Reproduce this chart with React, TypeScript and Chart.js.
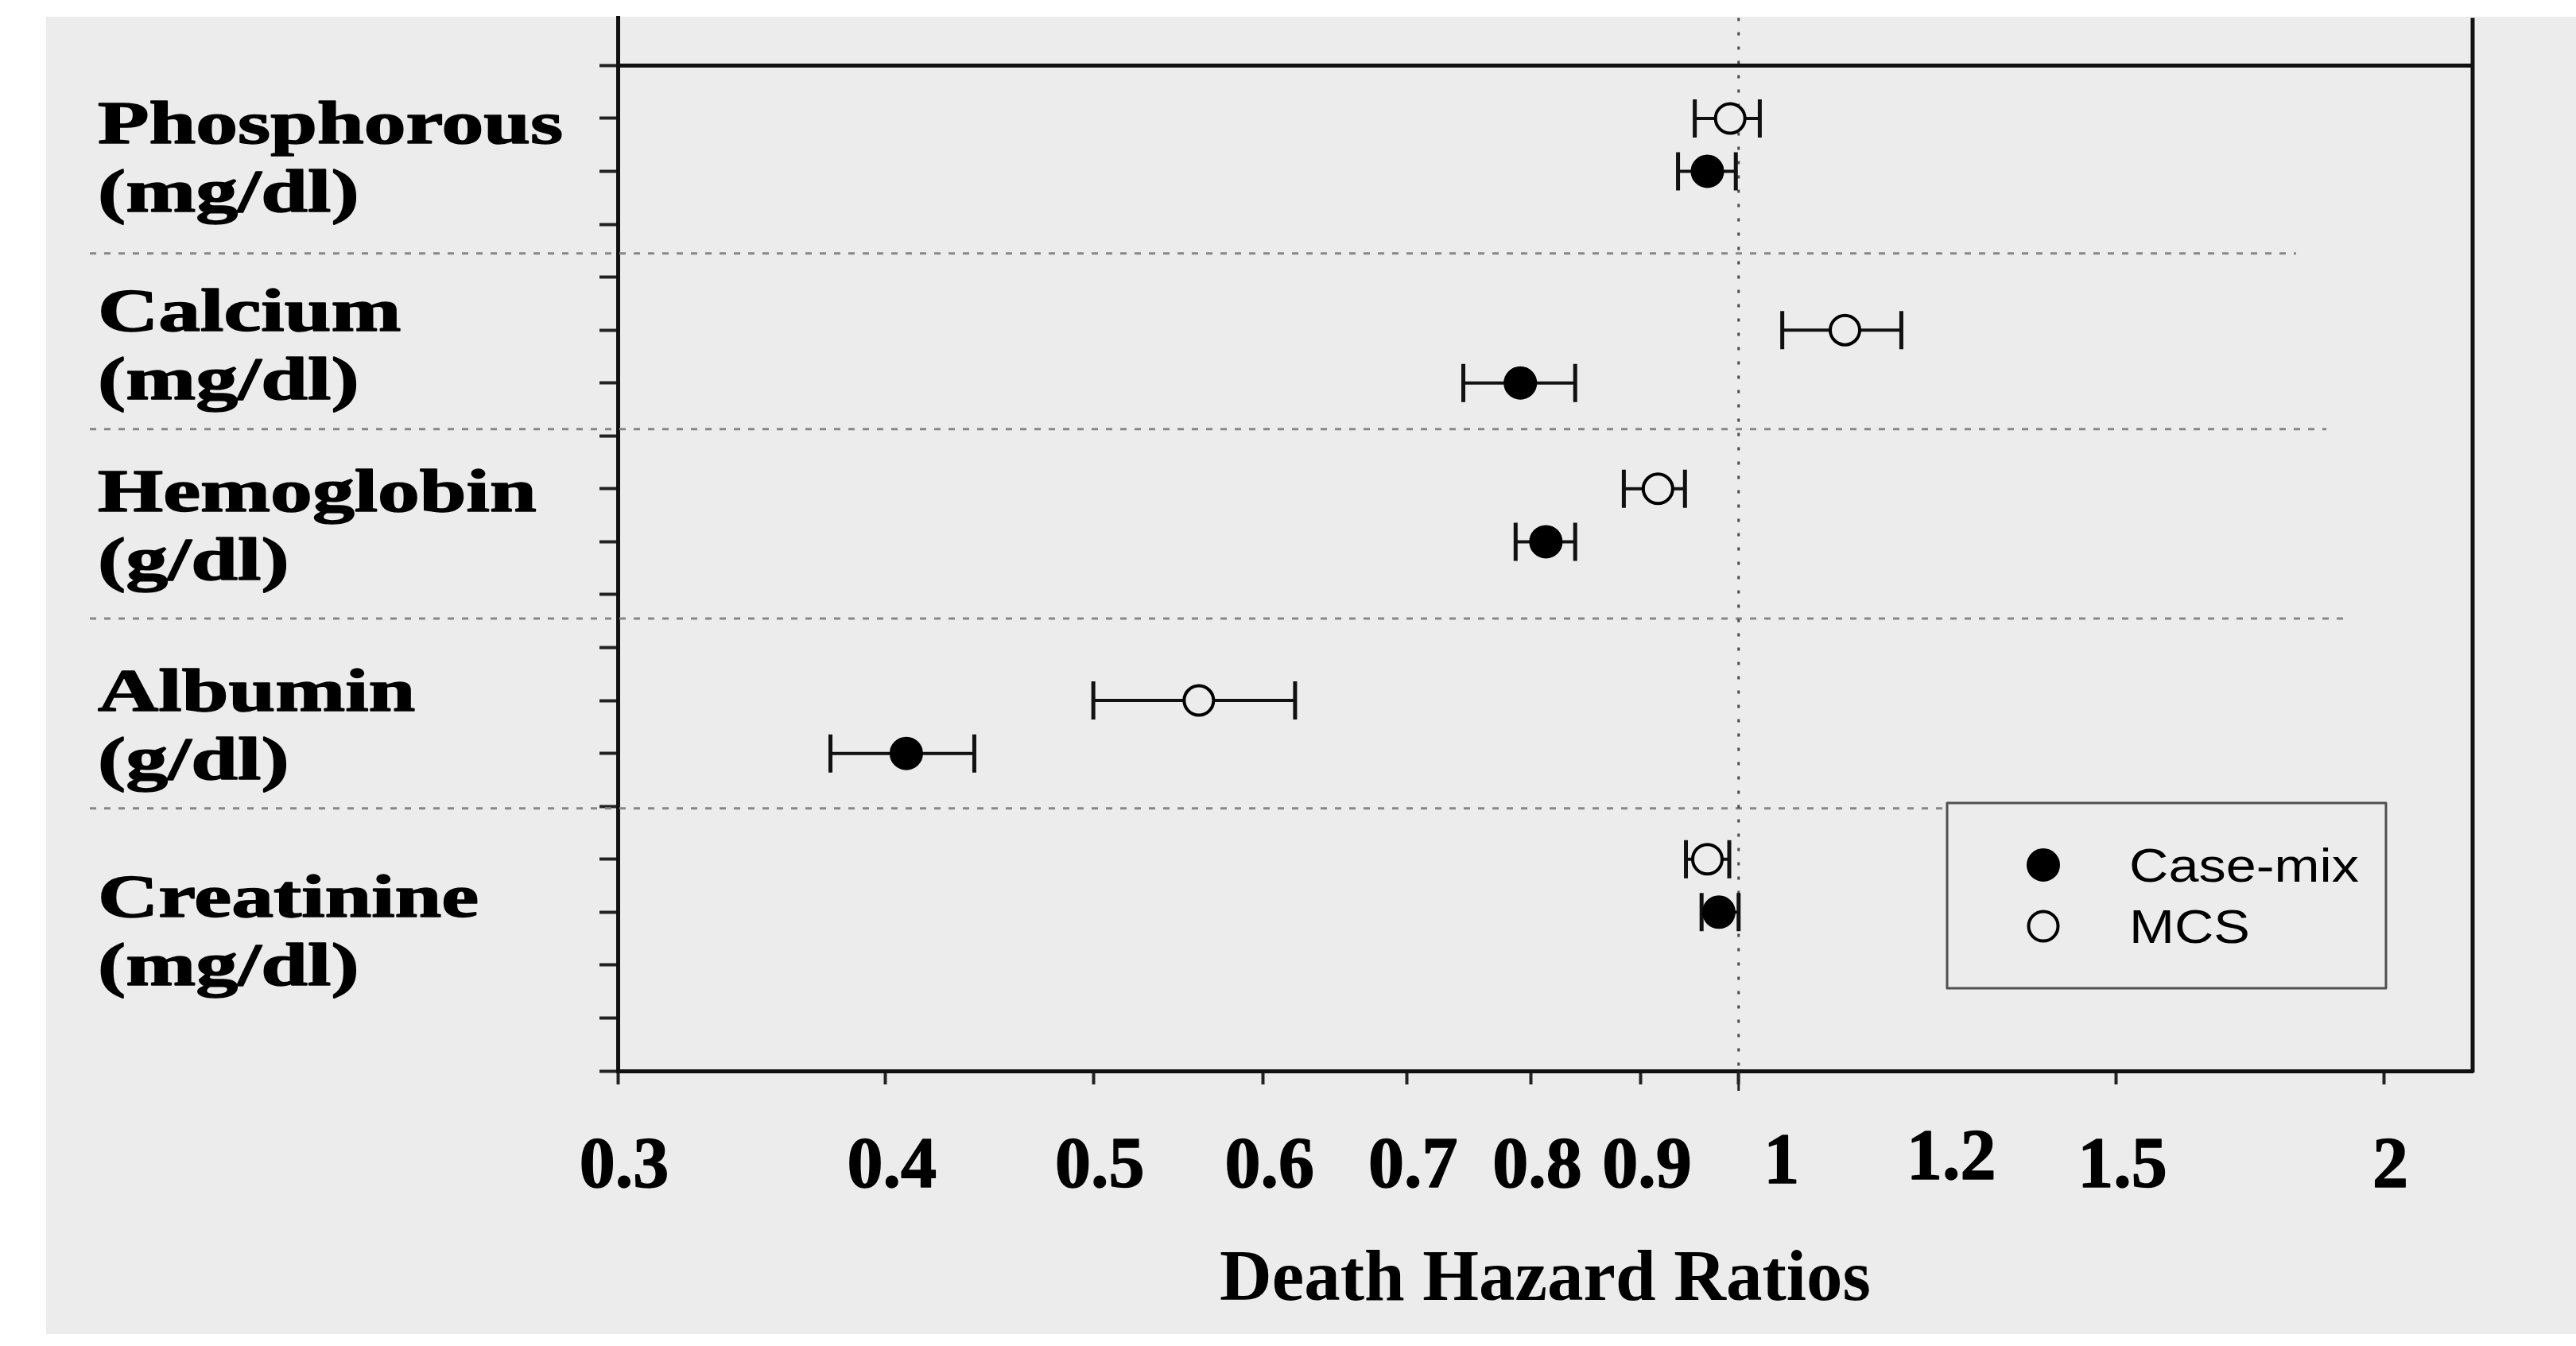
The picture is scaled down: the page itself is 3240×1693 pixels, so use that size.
import React, { useEffect, useRef } from 'react';
import { Chart, registerables } from 'chart.js';

Chart.register(...registerables);

// ---------------- data ----------------
const categories = ['Phosphorous', 'Calcium', 'Hemoglobin', 'Albumin', 'Creatinine'];
const units = ['(mg/dl)', '(mg/dl)', '(g/dl)', '(g/dl)', '(mg/dl)'];

const seriesNames = ['Case-mix', 'MCS'];

const caseMixHR = [0.967, 0.791, 0.813, 0.409, 0.979];
const caseMixLow = [0.937, 0.744, 0.787, 0.377, 0.961];
const caseMixHigh = [0.997, 0.839, 0.839, 0.440, 1.0];

const mcsHR = [0.991, 1.121, 0.917, 0.56, 0.967];
const mcsLow = [0.954, 1.048, 0.884, 0.5, 0.945];
const mcsHigh = [1.023, 1.191, 0.944, 0.621, 0.99];

// rows on the (hidden) vertical scale, 0 = bottom
const caseMixRow = [17, 13, 10, 6, 3];
const mcsRow = [18, 14, 11, 7, 4];
const labelRow = [17.54, 13.99, 10.57, 6.8, 2.91];
const separatorRow = [15.45, 12.13, 8.55, 4.96];
const separatorEndHR = [1.82, 1.88, 1.93, 1.25];
const yTickRows = [0, 1, 2, 3, 4, 5, 6, 7, 8, 9, 10, 11, 12, 13, 14, 15, 16, 17, 18, 19];
const topRuleRow = 19;

const xTickValues = [0.3, 0.4, 0.5, 0.6, 0.7, 0.8, 0.9, 1, 1.5, 2];
const xLabelValues = [0.3, 0.4, 0.5, 0.6, 0.7, 0.8, 0.9, 1, 1.2, 1.5, 2];
const xLabelTexts = ['0.3', '0.4', '0.5', '0.6', '0.7', '0.8', '0.9', '1', '1.2', '1.5', '2'];
const referenceHR = 1;
const xTitle = 'Death Hazard Ratios';

// ---------------- styles ----------------
const W = 3240;
const H = 1693;
const PANEL = '#ececec';
const INK = '#111111';
const labelNudge: Record<string, [number, number]> = { '1': [46, -5], '1.2': [46, -10] };

export default function App() {
  const ref = useRef<HTMLCanvasElement | null>(null);

  useEffect(() => {
    document.body.style.margin = '0';
    document.body.style.overflow = 'hidden';
    const canvas = ref.current;
    if (!canvas) return;

    const bgPlugin = {
      id: 'panelBg',
      beforeDraw(chart: any) {
        const ctx = chart.ctx;
        ctx.save();
        ctx.fillStyle = '#ffffff';
        ctx.fillRect(0, 0, chart.width, chart.height);
        ctx.fillStyle = PANEL;
        ctx.fillRect(58, 21, chart.width - 58, 1678 - 21);
        ctx.restore();
      },
    };

    const decorPlugin = {
      id: 'decor',
      beforeDatasetsDraw(chart: any) {
        const { ctx, chartArea } = chart;
        const xs = chart.scales.x;
        const ys = chart.scales.y;
        ctx.save();

        // dashed separators between groups
        ctx.strokeStyle = '#878787';
        ctx.lineWidth = 3;
        ctx.setLineDash([8, 10]);
        separatorRow.forEach((r, i) => {
          const py = ys.getPixelForValue(r);
          ctx.beginPath();
          ctx.moveTo(113, py);
          ctx.lineTo(xs.getPixelForValue(separatorEndHR[i]), py);
          ctx.stroke();
        });

        // dotted reference line at HR = 1
        const p1 = xs.getPixelForValue(referenceHR);
        ctx.strokeStyle = '#4a4a4a';
        ctx.lineWidth = 3;
        ctx.setLineDash([4, 14]);
        ctx.beginPath();
        ctx.moveTo(p1, chartArea.top);
        ctx.lineTo(p1, chartArea.bottom);
        ctx.stroke();
        ctx.setLineDash([]);
        ctx.strokeStyle = '#222222';
        ctx.beginPath();
        ctx.moveTo(p1, chartArea.bottom);
        ctx.lineTo(p1, chartArea.bottom + 25);
        ctx.stroke();

        // top rule and right frame
        ctx.strokeStyle = INK;
        ctx.lineWidth = 5;
        const pt = ys.getPixelForValue(topRuleRow);
        ctx.beginPath();
        ctx.moveTo(chartArea.left, pt);
        ctx.lineTo(chartArea.right, pt);
        ctx.stroke();
        ctx.beginPath();
        ctx.moveTo(chartArea.right, chartArea.top);
        ctx.lineTo(chartArea.right, chartArea.bottom + 2);
        ctx.stroke();

        // error bars
        const groups = [
          { rows: caseMixRow, low: caseMixLow, high: caseMixHigh },
          { rows: mcsRow, low: mcsLow, high: mcsHigh },
        ];
        ctx.strokeStyle = INK;
        groups.forEach((g) => {
          g.rows.forEach((r, i) => {
            const py = ys.getPixelForValue(r);
            const xl = xs.getPixelForValue(g.low[i]);
            const xh = xs.getPixelForValue(g.high[i]);
            ctx.lineWidth = 4;
            ctx.beginPath();
            ctx.moveTo(xl, py);
            ctx.lineTo(xh, py);
            ctx.stroke();
            ctx.lineWidth = 5;
            ctx.beginPath();
            ctx.moveTo(xl, py - 24);
            ctx.lineTo(xl, py + 24);
            ctx.moveTo(xh, py - 24);
            ctx.lineTo(xh, py + 24);
            ctx.stroke();
          });
        });
        ctx.restore();
      },
      afterDraw(chart: any) {
        const { ctx } = chart;
        const xs = chart.scales.x;
        const ys = chart.scales.y;
        ctx.save();

        // group labels (wide bold serif)
        ctx.fillStyle = '#000000';
        ctx.strokeStyle = '#000000';
        ctx.lineWidth = 1.5;
        ctx.lineJoin = 'round';
        ctx.font = 'bold 76px "Liberation Serif", "Times New Roman", serif';
        ctx.textAlign = 'left';
        ctx.textBaseline = 'alphabetic';
        categories.forEach((c, i) => {
          const by = ys.getPixelForValue(labelRow[i]);
          [c, units[i]].forEach((t, j) => {
            ctx.save();
            ctx.translate(123, by + j * 86);
            ctx.scale(1.39, 1);
            ctx.fillText(t, 0, 0);
            ctx.strokeText(t, 0, 0);
            ctx.restore();
          });
        });

        // x tick labels
        ctx.font = 'bold 90px "Liberation Serif", "Times New Roman", serif';
        ctx.textAlign = 'center';
        ctx.lineWidth = 1.5;
        xLabelValues.forEach((v, i) => {
          const t = xLabelTexts[i];
          const n = labelNudge[t] || [0, 0];
          const px = xs.getPixelForValue(v) + 8 + n[0];
          const py = xs.top + 146 + n[1];
          ctx.fillText(t, px, py);
          ctx.strokeText(t, px, py);
        });

        // legend
        const bx = 2449, by = 1010, bw = 552, bh = 233;
        ctx.fillStyle = PANEL;
        ctx.fillRect(bx, by, bw, bh);
        ctx.strokeStyle = '#505050';
        ctx.lineWidth = 3;
        ctx.strokeRect(bx, by, bw, bh);
        chart.data.datasets.forEach((ds: any, i: number) => {
          const cy = by + 78 + i * 77;
          ctx.beginPath();
          ctx.arc(bx + 121, cy, ds.pointRadius, 0, Math.PI * 2);
          ctx.fillStyle = ds.pointBackgroundColor;
          ctx.fill();
          ctx.lineWidth = ds.pointBorderWidth;
          ctx.strokeStyle = ds.pointBorderColor;
          ctx.stroke();
          ctx.save();
          ctx.fillStyle = '#000000';
          ctx.font = '60px "Liberation Sans", Arial, sans-serif';
          ctx.textAlign = 'left';
          ctx.textBaseline = 'alphabetic';
          ctx.translate(bx + 229, cy + 21);
          ctx.scale(1.14, 1);
          ctx.fillText(ds.label, 0, 0);
          ctx.restore();
        });
        ctx.restore();
      },
    };

    const chart = new Chart(canvas, {
      type: 'scatter',
      data: {
        datasets: [
          {
            label: seriesNames[0],
            data: caseMixHR.map((v, i) => ({ x: v, y: caseMixRow[i] })),
            pointRadius: 20,
            pointHoverRadius: 20,
            pointBackgroundColor: '#000000',
            pointBorderColor: '#000000',
            pointBorderWidth: 2,
            showLine: false,
          },
          {
            label: seriesNames[1],
            data: mcsHR.map((v, i) => ({ x: v, y: mcsRow[i] })),
            pointRadius: 18.5,
            pointHoverRadius: 18.5,
            pointBackgroundColor: PANEL,
            pointBorderColor: '#000000',
            pointBorderWidth: 4,
            showLine: false,
          },
        ],
      },
      options: {
        responsive: false,
        maintainAspectRatio: false,
        animation: false,
        devicePixelRatio: 1,
        events: [],
        layout: { padding: { top: 21, right: 130, bottom: 0, left: 0 } },
        plugins: { legend: { display: false }, tooltip: { enabled: false }, title: { display: false } },
        scales: {
          x: {
            type: 'logarithmic',
            position: 'bottom',
            min: 0.3,
            max: 2.2,
            afterBuildTicks: (s: any) => {
              s.ticks = xTickValues.map((v) => ({ value: v }));
            },
            afterFit: (s: any) => {
              s.height = 346;
            },
            ticks: { display: false },
            grid: { drawOnChartArea: false, drawTicks: true, tickLength: 17, tickWidth: 4, tickColor: '#222222', color: '#222222' },
            border: { display: true, color: INK, width: 5 },
            title: {
              display: true,
              text: xTitle,
              color: '#000000',
              font: { family: '"Liberation Serif", "Times New Roman", serif', weight: 'bold', size: 91 },
              padding: { top: 0, bottom: 27 },
            },
          },
          y: {
            type: 'linear',
            position: 'left',
            min: 0,
            max: 19.9,
            afterBuildTicks: (s: any) => {
              s.ticks = yTickRows.map((v) => ({ value: v }));
            },
            afterFit: (s: any) => {
              s.width = 777;
            },
            ticks: { display: false },
            grid: { drawOnChartArea: false, drawTicks: true, tickLength: 23, tickWidth: 4, tickColor: '#222222', color: '#222222' },
            border: { display: true, color: INK, width: 5 },
          },
        },
      },
      plugins: [bgPlugin, decorPlugin],
    } as any);

    return () => {
      chart.destroy();
    };
  }, []);

  return (
    <div style={{ width: W, height: H, position: 'relative' }}>
      <canvas ref={ref} width={W} height={H} style={{ display: 'block', width: W, height: H }} />
    </div>
  );
}
